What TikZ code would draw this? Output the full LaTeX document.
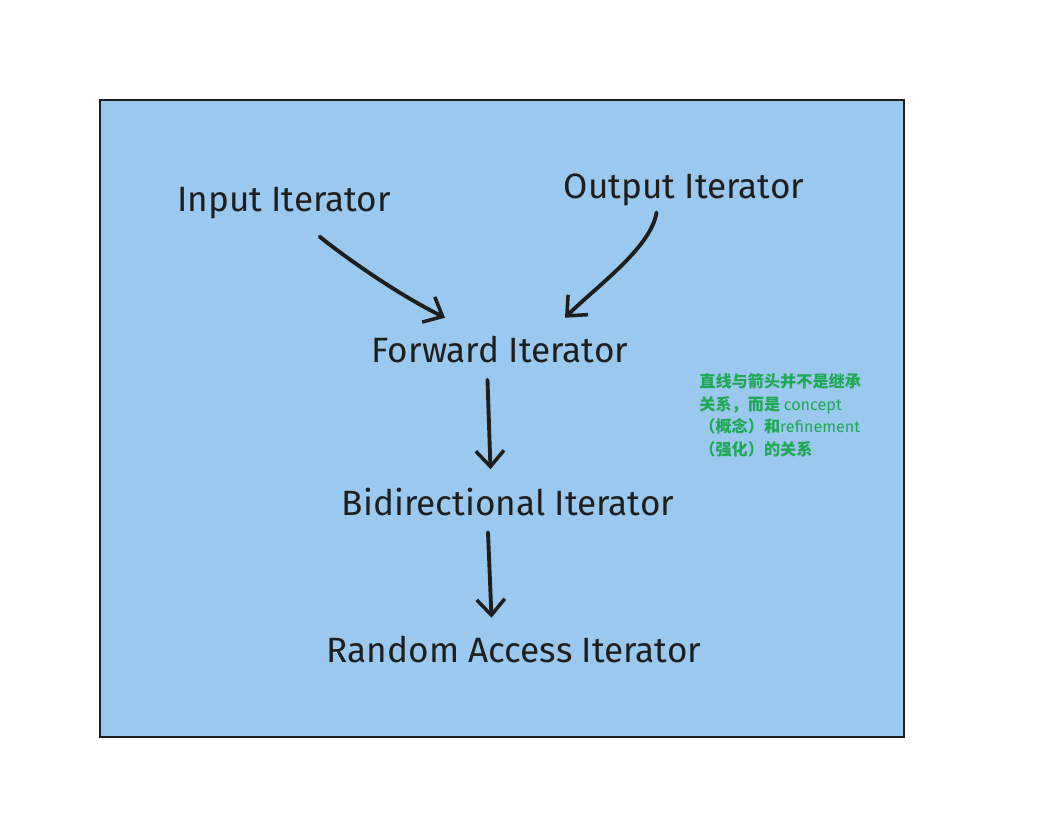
\documentclass[tikz,border=0pt]{standalone}
\usepackage{fontspec}
\setmainfont{Fira Sans}
\newfontfamily\cjkfont{Noto Sans CJK SC}
\usetikzlibrary{arrows.meta, positioning}

\definecolor{panelblue}{HTML}{9AC8EE}
\definecolor{inkgray}{HTML}{1E1E1E}
\definecolor{notegreen}{HTML}{1FA855}

\begin{document}
\begin{tikzpicture}[
    x=0.02cm, y=-0.02cm,
    iter/.style={text=inkgray, font=\fontsize{20}{24}\selectfont, inner sep=2pt},
    note/.style={text=notegreen, font=\fontsize{9.2}{12.9}\selectfont\cjkfont\bfseries, align=left, inner sep=0pt},
    refine/.style={-{Straight Barb[length=9pt, width=16pt, line width=2pt]}, draw=inkgray, line width=2.2pt, line cap=round, line join=round}
]

% Page size
\useasboundingbox (0,0) rectangle (1042,839);

% Blue panel
\draw[fill=panelblue, draw=inkgray, line width=1pt] (100,100) rectangle (904,737);

% Iterator concepts
\node[iter] (input) at (284,203) {Input Iterator};
\node[iter] (output) at (684,190) {Output Iterator};
\node[iter] (forward) at (500,350) {Forward Iterator};
\node[iter] (bidir) at (508,502) {Bidirectional Iterator};
\node[iter] (random) at (514,650) {Random Access Iterator};

% Side note
\node[note, anchor=north west] (remark) at (699,373) {直线与箭头并不是继承\\关系，而是 {\fontspec{Fira Sans}\mdseries concept}\\（概念）和{\fontspec{Fira Sans}\mdseries refinement}\\（强化）的关系};

% Refinement arrows
\draw[refine] ([xshift=-1.5cm, yshift=-0.28cm]input.south east) .. controls +(25,20) and +(-50,-25) .. ([xshift=-1.1cm, yshift=0.3cm]forward.north);
\draw[refine] ([xshift=-0.55cm, yshift=-0.05cm]output.south) .. controls +(-5,35) and +(30,-30) .. ([xshift=1.3cm, yshift=0.3cm]forward.north);
\draw[refine] ([xshift=-0.25cm, yshift=-0.25cm]forward.south) -- ([xshift=-0.35cm, yshift=0.3cm]bidir.north);
\draw[refine] ([xshift=-0.4cm, yshift=-0.25cm]bidir.south) -- ([xshift=-0.45cm, yshift=0.3cm]random.north);

\end{tikzpicture}
\end{document}
